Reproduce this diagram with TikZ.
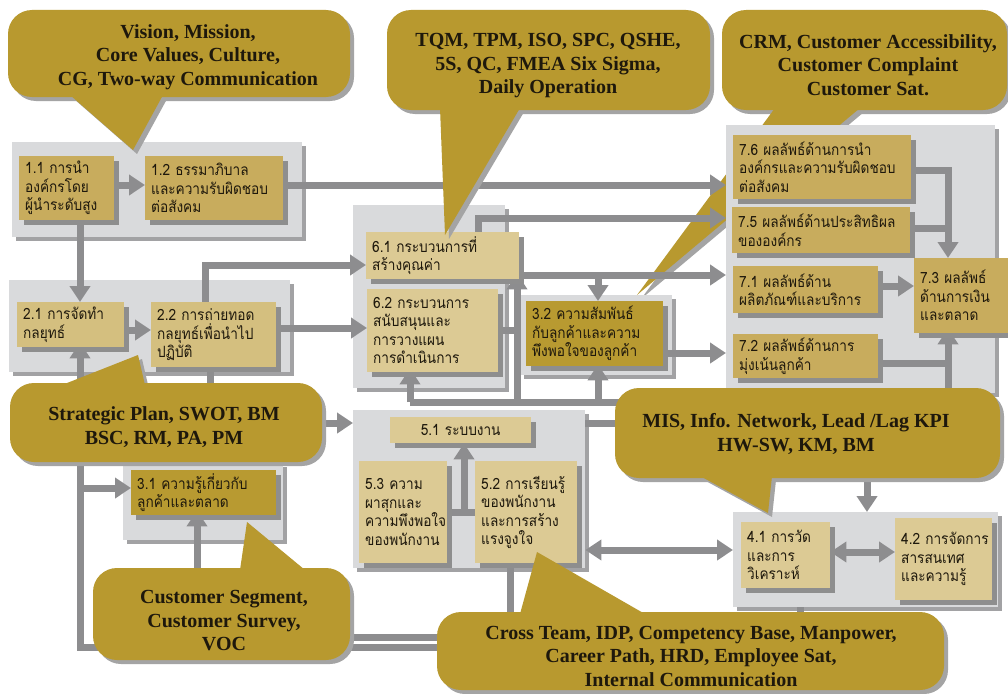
\documentclass[tikz,border=0pt]{standalone}
\usepackage{fontspec}
\setmainfont{Liberation Serif}
\newfontfamily\thaifont[Script=Thai, FakeStretch=0.88]{Loma}
\usetikzlibrary{arrows.meta,shadows}

\definecolor{panelgray}{HTML}{D9DADC}
\definecolor{panelshadow}{HTML}{A2A2A4}
\definecolor{boxshadow}{HTML}{8E8E8E}
\definecolor{linegray}{HTML}{8D8D8F}
\definecolor{goldA}{HTML}{C8AC5D}
\definecolor{goldB}{HTML}{D4BF7F}
\definecolor{goldC}{HTML}{DCCA94}
\definecolor{goldD}{HTML}{B89A31}
\definecolor{calloutgold}{HTML}{B8992F}
\definecolor{calloutshadow}{HTML}{A4A4A4}
\definecolor{inkdark}{HTML}{1E180C}

\pgfdeclarelayer{back}
\pgfdeclarelayer{plates}
\pgfdeclarelayer{wires}
\pgfsetlayers{back,plates,wires,main}

% panel: a grey backing plate with its own shadow
\newcommand\tqpanel[5]{%
  \node[panel, minimum width=#4pt, minimum height=#5pt] (#1) at (#2,#3) {};}
% box: name, style, x, y, width, height, text
\newcommand\tqbox[7]{%
  \pgfmathsetmacro\tqtw{#5-12}%
  \node[#2, minimum width=#5pt, minimum height=#6pt, text width=\tqtw pt] (#1) at (#3,#4) {#7};}
% speech bubble: body rectangle, tail triangle
\newcommand\tqbubble[2]{%
  \fill[calloutshadow, rounded corners=24pt, shift={(4,4)}] #1;
  \fill[calloutshadow, shift={(4,4)}] #2 -- cycle;
  \fill[calloutgold, rounded corners=24pt] #1;
  \fill[calloutgold] #2 -- cycle;}

\begin{document}
\begin{tikzpicture}[x=1pt,y=-1pt,
  panel/.style={fill=panelgray, anchor=north west, inner sep=0pt,
    drop shadow={shadow xshift=4pt, shadow yshift=-4pt, fill=panelshadow, opacity=1}},
  tbox/.style={anchor=north west, inner xsep=6pt, inner ysep=2pt, align=left,
    font=\thaifont\fontsize{15.5}{18.5}\selectfont, text=inkdark,
    drop shadow={shadow xshift=5pt, shadow yshift=-5pt, fill=boxshadow, opacity=1}},
  conn/.style={draw=linegray, line width=7pt},
  arr/.style={conn, -{Triangle[width=20pt,length=16pt]}},
  darr/.style={conn, {Triangle[width=20pt,length=16pt]}-{Triangle[width=20pt,length=16pt]}},
  ctext/.style={font=\bfseries\fontsize{20}{23.5}\selectfont, align=center,
    text=inkdark, inner sep=0pt}]
\useasboundingbox (0,0) rectangle (1008,693);
\begin{pgfonlayer}{back}
\fill[white] (0,0) rectangle (1008,693);
\end{pgfonlayer}

% routing lanes
\foreach \v in {80,197,205,210,410,464,478,510,517,598,630,800,867,948}
  \coordinate (x\v) at (\v,0);
\foreach \v in {170,185,218,228,265,275,286,328,330,353,363,402,423,488,512,550,552,637,647}
  \coordinate (y\v) at (0,\v);

% customer bubble sits behind the results plate
\begin{pgfonlayer}{back}
\tqbubble{(722,10) rectangle (1007,110)}{(775,108) -- (637,295) -- (860,108)}
\node[ctext] (tCRM) at (868,65) {CRM, Customer Accessibility,\\Customer Complaint\\Customer Sat.};
\end{pgfonlayer}

% plates
\begin{pgfonlayer}{plates}
\tqpanel{p1}{12}{142}{290}{95}
\tqpanel{p2}{9}{280}{281}{92}
\tqpanel{p3a}{123}{463}{160}{77}
\tqpanel{p6}{353}{205}{152}{183}
\tqpanel{p3b}{520}{295}{152}{80}
\tqpanel{p5}{353}{410}{232}{158}
\tqpanel{p7}{726}{125}{269}{268}
\tqpanel{p4}{733}{512}{265}{95}
\end{pgfonlayer}

% boxes
\tqbox{b11}{tbox, fill=goldA}{19}{156}{95}{64}{1.1~การนำ\\องค์กรโดย\\ผู้นำระดับสูง}
\tqbox{b12}{tbox, fill=goldA}{145}{156}{138}{64}{1.2~ธรรมาภิบาล\\และความรับผิดชอบ\\ต่อสังคม}
\tqbox{b21}{tbox, fill=goldB}{17}{302}{107}{45}{2.1~การจัดทำ\\กลยุทธ์}
\tqbox{b22}{tbox, fill=goldB}{151}{302}{125}{65}{2.2~การถ่ายทอด\\กลยุทธ์เพื่อนำไป\\ปฏิบัติ}
\tqbox{b31}{tbox, fill=goldD}{131}{470}{145}{45}{3.1~ความรู้เกี่ยวกับ\\ลูกค้าและตลาด}
\tqbox{b61}{tbox, fill=goldC}{366}{232}{153}{47}{6.1~กระบวนการที่\\สร้างคุณค่า}
\tqbox{b62}{tbox, fill=goldC}{367}{289}{131}{83}{6.2~กระบวนการ\\สนับสนุนและ\\การวางแผน\\การดำเนินการ}
\tqbox{b32}{tbox, fill=goldD}{526}{301}{137}{65}{3.2~ความสัมพันธ์\\กับลูกค้าและความ\\พึงพอใจของลูกค้า}
\tqbox{b51}{tbox, fill=goldC, align=center}{390}{417}{141}{26}{5.1~ระบบงาน}
\tqbox{b53}{tbox, fill=goldC}{359}{461}{88}{102}{5.3~ความ\\ผาสุกและ\\ความพึงพอใจ\\ของพนักงาน}
\tqbox{b52}{tbox, fill=goldC}{475}{461}{102}{102}{5.2~การเรียนรู้\\ของพนักงาน\\และการสร้าง\\แรงจูงใจ}
\tqbox{b76}{tbox, fill=goldA}{733}{135}{178}{64}{7.6~ผลลัพธ์ด้านการนำ\\องค์กรและความรับผิดชอบ\\ต่อสังคม}
\tqbox{b75}{tbox, fill=goldA}{732}{207}{178}{46}{7.5~ผลลัพธ์ด้านประสิทธิผล\\ขององค์กร}
\tqbox{b71}{tbox, fill=goldA}{733}{266}{145}{47}{7.1~ผลลัพธ์ด้าน\\ผลิตภัณฑ์และบริการ}
\tqbox{b72}{tbox, fill=goldA}{733}{334}{145}{44}{7.2~ผลลัพธ์ด้านการ\\มุ่งเน้นลูกค้า}
\tqbox{b73}{tbox, fill=goldA}{914}{258}{94}{75}{7.3~ผลลัพธ์\\ด้านการเงิน\\และตลาด}
\tqbox{b41}{tbox, fill=goldC}{741}{522}{89}{66}{4.1~การวัด\\และการ\\วิเคราะห์}
\tqbox{b42}{tbox, fill=goldC}{895}{518}{97}{82}{4.2~การจัดการ\\สารสนเทศ\\และความรู้}

% connectors, under the boxes and over the plates
\begin{pgfonlayer}{wires}
% leadership and strategy
\draw[arr] (b11.east|-y185) -- (b12.west|-y185);
\draw[arr] (b12.east|-y185) -- (p7.west|-y185);
\draw[arr] (b11.south-|x80) -- (b21.north-|x80);
\draw[arr] (b21.east|-y330) -- (b22.west|-y330);
\draw[arr] (b22.north-|x205) -- (x205|-y265) -- (b61.west|-y265);
\draw[arr] (b22.east|-y328) -- (b62.west|-y328);
\draw[arr] (b22.south-|x210) -- (x210|-y423) -- (p5.west|-y423);
% processes to results
\draw[arr] (b61.north-|x478) -- (x478|-y218) -- (p7.west|-y218);
\draw[arr] (b61.east|-y275) -- (p7.west|-y275);
\draw[arr] (x598|-y275) -- (b32.north-|x598);
\draw[conn] (b62.east|-y330) -- (x517|-y330);
\draw[arr] (b32.east|-y353) -- (p7.west|-y353);
% workforce feed line
\draw[conn] (p5.east|-y423) -- (x630|-y423) -- (x630|-y402);
\draw[conn] (x410|-y402) -- (x948|-y402);
\draw[arr, shorten >=-4pt] (x410|-y402) -- (b62.south-|x410);
\draw[arr, shorten >=-2pt] (x598|-y402) -- (b32.south-|x598);
\draw[arr, shorten >=-6pt] (x517|-y402) -- (b61.south-|x517);
\draw[arr] (x867|-y402) -- (p4.north-|x867);
% results block
\draw[arr] (b76.east|-y170) -- (x948|-y170) -- (b73.north-|x948);
\draw[conn] (b75.east|-y228) -- (x948|-y228);
\draw[arr] (b71.east|-y286) -- (b73.west|-y286);
\draw[conn] (b72.east|-y363) -- (x948|-y363);
\draw[arr, shorten >=-5pt] (x948|-y402) -- (b73.south-|x948);
% workforce, measurement
\draw[conn] (b53.east|-y512) -- (b52.west|-y512);
\draw[arr] (x464|-y512) -- (b51.south-|x464);
\draw[darr] (p5.east|-y550) -- (p4.west|-y550);
\draw[darr] (b41.east|-y552) -- (b42.west|-y552);
% feedback loops along the bottom
\draw[arr, shorten >=-5pt] (p5.south-|x510) -- (x510|-y647) -- (x80|-y647) -- (b21.south-|x80);
\draw[arr] (x80|-y488) -- (b31.west|-y488);
\draw[arr, shorten >=-5pt] (p4.south-|x800) -- (x800|-y637) -- (x197|-y637) -- (b31.south-|x197);
\end{pgfonlayer}

% speech bubbles drawn last
\tqbubble{(8,10) rectangle (350,97)}{(70,95) -- (133,150) -- (163,95)}
\node[ctext] (tVision) at (188,57) {Vision, Mission,\\Core Values, Culture,\\CG, Two-way Communication};

\tqbubble{(387,10) rectangle (710,110)}{(440,108) -- (445,235) -- (520,108)}
\node[ctext] (tTQM) at (548,66) {TQM, TPM, ISO, SPC, QSHE,\\5S, QC, FMEA Six Sigma,\\Daily Operation};

\tqbubble{(10,383) rectangle (322,462)}{(62,385) -- (138,355) -- (145,385)}
\node[ctext] (tSP) at (164,427) {Strategic Plan, SWOT, BM\\BSC, RM, PA, PM};

\tqbubble{(615,388) rectangle (1000,478)}{(700,476) -- (768,513) -- (772,476)}
\node[ctext] (tMIS) at (796,434) {MIS, Info. Network, Lead /Lag KPI\\HW-SW, KM, BM};

\tqbubble{(93,568) rectangle (350,660)}{(240,570) -- (247,522) -- (305,570)}
\node[ctext] (tCS) at (224,621) {Customer Segment,\\Customer Survey,\\VOC};

\tqbubble{(437,612) rectangle (944,690)}{(520,614) -- (537,552) -- (645,614)}
\node[ctext] (tCT) at (691,656) {Cross Team, IDP, Competency Base, Manpower,\\Career Path, HRD, Employee Sat,\\Internal Communication};
\end{tikzpicture}
\end{document}
